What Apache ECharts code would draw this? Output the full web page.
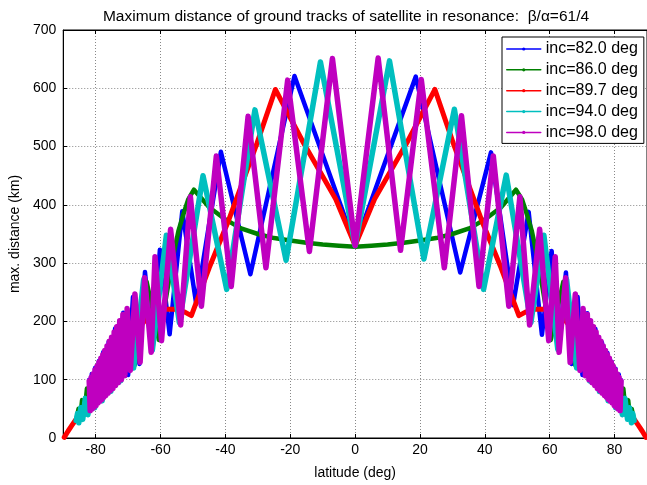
<!DOCTYPE html>
<html>
<head>
<meta charset="utf-8">
<script src="https://cdn.jsdelivr.net/npm/echarts@6/dist/echarts.min.js"></script>
<style>
  html, body { margin: 0; padding: 0; background: #fff; }
  #chart { width: 647px; height: 485px; }
</style>
</head>
<body>
<div id="chart"></div>
<script>
// tick values
var xTicks = [-80, -60, -40, -20, 0, 20, 40, 60, 80];

var names = ['inc=82.0 deg', 'inc=86.0 deg', 'inc=89.7 deg', 'inc=94.0 deg', 'inc=98.0 deg'];
var colors = ['#0000ff', '#008000', '#ff0000', '#00bfbf', '#bf00bf'];

// [latitude, max distance]
var inc82 = [
    [-82, 100], [-81.6, 50], [-81.2, 110], [-80.6, 54], [-80.2, 120], [-79.5, 60], [-79, 132],
    [-78.3, 67], [-77.7, 147], [-76.8, 75], [-76, 165], [-75, 84], [-74, 188], [-72.8, 95],
    [-71.5, 215], [-70, 108], [-68.5, 242], [-66.5, 127], [-64.8, 285], [-62.5, 150],
    [-60.2, 323], [-57.2, 178], [-53.3, 389], [-49, 230], [-41.4, 491], [-32.3, 281],
    [-18.7, 621], [0, 330],
    [18.7, 620], [32.4, 284], [41.9, 490], [48.7, 228], [53.5, 388], [57.6, 177], [60.6, 321],
    [62.7, 150], [65, 284], [66.7, 127], [68.6, 242], [70.1, 108], [71.6, 214], [72.9, 95],
    [74.1, 187], [75.1, 84], [76.1, 164], [76.9, 75], [77.8, 146], [78.4, 67], [79.1, 131],
    [79.6, 60], [80.3, 119], [80.7, 54], [81.3, 109], [81.7, 50], [82, 99]
];
var inc86 = [
    [-86, 30], [-85.3, 50], [-84.8, 32], [-84.2, 65], [-83.5, 40], [-82.7, 85], [-81.8, 52],
    [-80.8, 105], [-79.7, 65], [-78.5, 128], [-77, 80], [-75.5, 160], [-73.5, 98], [-71.3, 205],
    [-68, 125], [-64.3, 268], [-60.5, 168], [-58.8, 224], [-57.6, 264], [-56, 315], [-54.5, 355],
    [-53, 383], [-51.5, 409], [-49.7, 426], [-45, 396], [-40, 375], [-35.4, 360], [-30, 350],
    [-25, 343], [-20, 339], [-15, 335], [-10, 332], [-5, 330], [0, 328],
    [5, 330], [10, 332], [15, 335], [20, 339], [25, 343], [30, 350], [35.4, 360], [40, 375],
    [45, 396], [49.6, 426], [51.5, 409], [53, 383], [54.5, 355], [56, 315], [57.6, 264],
    [58.8, 224], [60.3, 168], [64.2, 268], [67.9, 125], [71.2, 205], [73.4, 98], [75.4, 160],
    [77, 80], [78.5, 128], [79.7, 65], [80.8, 105], [81.8, 52], [82.7, 85], [83.5, 40],
    [84.2, 65], [84.8, 32], [85.3, 50], [86, 30]
];
var inc897 = [
    [-89.7, 1], [-88.5, 12], [-87.3, 22], [-86.3, 30], [-84, 48], [-80, 80], [-76, 115],
    [-72, 150], [-68, 180], [-64.7, 202], [-61, 218], [-58.6, 221], [-55.3, 221], [-52.5, 216],
    [-50.5, 210], [-45, 292], [-39.4, 368], [-30.3, 505], [-24.6, 598], [-16, 507], [-6, 410],
    [0, 330],
    [6, 410], [16, 507], [24.6, 598], [30.3, 505], [39.4, 368], [45, 292], [50.5, 210],
    [52.5, 216], [55.3, 221], [58.6, 221], [61, 218], [64.7, 202], [68, 180], [72, 150],
    [76, 115], [80, 80], [84, 48], [86.3, 30], [87.3, 22], [88.5, 12], [89.7, 1]
];
var inc94 = [
    [-86, 30], [-85.6, 42], [-85.2, 26], [-84.6, 52], [-84, 32], [-83.2, 68], [-82.4, 40],
    [-81.4, 88], [-80.3, 52], [-79.3, 108], [-78, 64], [-76.8, 132], [-75.3, 80], [-74, 165],
    [-72.3, 98], [-70.5, 213], [-68.3, 120], [-65.2, 272], [-62.5, 152], [-58.2, 348],
    [-54.2, 198], [-46.9, 450], [-39.6, 255], [-30.9, 563], [-21.3, 305], [-10.7, 645], [0, 330],
    [10.6, 647], [21.2, 307], [30.6, 564], [39.6, 255], [46.6, 451], [54.2, 198], [58.2, 348],
    [62.5, 152], [65.2, 272], [68.3, 120], [70.5, 213], [72.3, 98], [74, 165], [75.3, 80],
    [76.8, 132], [78, 64], [79.3, 108], [80.3, 52], [81.4, 88], [82.4, 40], [83.2, 68],
    [84, 32], [84.6, 52], [85.2, 26], [85.6, 42], [86, 30]
];
var inc98 = [
    [-82, 98], [-81.7, 47], [-81.4, 104], [-81.1, 50], [-80.8, 110], [-80.5, 53], [-80.2, 117],
    [-79.9, 56], [-79.6, 123], [-79.3, 60], [-79, 130], [-78.7, 63], [-78.4, 137], [-78.1, 66],
    [-77.8, 143], [-77.5, 70], [-77.2, 150], [-76.9, 73], [-76.5, 158], [-76.2, 77],
    [-75.8, 166], [-75.5, 81], [-75.1, 173], [-74.7, 85], [-74.3, 182], [-73.9, 90],
    [-73.5, 191], [-73.1, 95], [-72.6, 201], [-72.1, 100], [-71.6, 212], [-71, 107],
    [-70.3, 222], [-69.3, 116], [-67.9, 247], [-66.3, 130], [-64.9, 275], [-62.9, 147],
    [-61.7, 311], [-59.7, 167], [-56.9, 358], [-53.8, 194], [-50.8, 414], [-47.4, 226],
    [-42.8, 484], [-38.2, 260], [-33, 552], [-27.5, 292], [-20.8, 614], [-14.1, 320],
    [-7, 651], [0, 330],
    [7.1, 652], [14, 322], [20.4, 615], [27.5, 292], [32.8, 553], [38.2, 260], [42.6, 484],
    [47.4, 226], [50.8, 414], [53.8, 194], [56.9, 358], [59.7, 167], [61.7, 311], [62.9, 147],
    [64.9, 275], [66.3, 130], [67.9, 247], [69.3, 116], [70.3, 222], [71, 107], [71.6, 212],
    [72.1, 100], [72.6, 201], [73.1, 95], [73.5, 191], [73.9, 90], [74.3, 182], [74.7, 85],
    [75.1, 173], [75.5, 81], [75.8, 166], [76.2, 77], [76.5, 158], [76.9, 73], [77.2, 150],
    [77.5, 70], [77.8, 143], [78.1, 66], [78.4, 137], [78.7, 63], [79, 130], [79.3, 60],
    [79.6, 123], [79.9, 56], [80.2, 117], [80.5, 53], [80.8, 110], [81.1, 50], [81.4, 104],
    [81.7, 47], [82, 98]
];

var seriesData = [inc82, inc86, inc897, inc94, inc98];
var widths = [4.5, 4.5, 5, 5.5, 5.5];

var font = 'Liberation Sans, Arial, sans-serif';
var chartDom = document.getElementById('chart');
var myChart = echarts.init(chartDom);

var series = seriesData.map(function (d, i) {
    return {
        name: names[i],
        type: 'line',
        xAxisIndex: 0,
        data: d,
        showSymbol: false,
        symbol: 'circle',
        symbolSize: 3,
        color: colors[i],
        lineStyle: { width: widths[i], color: colors[i], join: 'round', cap: 'round' },
        emphasis: { disabled: true }
    };
});

var option = {
    backgroundColor: '#fff',
    animation: false,
    title: {
        text: 'Maximum distance of ground tracks of satellite in resonance:  \u03b2/\u03b1=61/4',
        left: 341,
        top: 4,
        textAlign: 'center',
        textStyle: { fontSize: 15.5, fontWeight: 'normal', color: '#000', fontFamily: font }
    },
    legend: {
        data: names,
        orient: 'vertical',
        left: 502,
        top: 37,
        padding: [4, 6, 3, 4],
        itemWidth: 34,
        itemHeight: 4,
        itemGap: 4.85,
        backgroundColor: '#fff',
        borderColor: '#000',
        borderWidth: 1,
        lineStyle: { width: 1.5 },
        textStyle: { fontSize: 16, color: '#000', fontFamily: font }
    },
    grid: {
        left: 58,
        top: 30,
        width: 591,
        height: 411,
        show: true,
        borderColor: '#000',
        borderWidth: 1
    },
    xAxis: [{
        type: 'value',
        min: -90,
        max: 90,
        name: 'latitude (deg)',
        nameLocation: 'middle',
        nameGap: 28,
        nameTextStyle: { fontSize: 14, color: '#000', fontFamily: font },
        axisLine: { show: true, onZero: false, lineStyle: { color: '#000' } },
        axisTick: { show: true, inside: true, length: 4, customValues: xTicks, lineStyle: { color: '#000' } },
        axisLabel: { customValues: xTicks, fontSize: 14, color: '#000', margin: 5, fontFamily: font },
        splitLine: { show: true, lineStyle: { color: '#888', type: [1, 2] } }
    }, {
        type: 'value',
        position: 'top',
        min: -90,
        max: 90,
        axisLine: { show: true, onZero: false, lineStyle: { color: '#000' } },
        axisTick: { show: true, inside: true, length: 4, customValues: xTicks, lineStyle: { color: '#000' } },
        axisLabel: { show: false },
        splitLine: { show: false }
    }],
    yAxis: {
        type: 'value',
        min: 0,
        max: 700,
        interval: 100,
        name: 'max. distance (km)',
        nameLocation: 'middle',
        nameGap: 30,
        nameTextStyle: { fontSize: 14, color: '#000', fontFamily: font },
        axisLine: { show: true, onZero: false, lineStyle: { color: '#000' } },
        axisTick: { show: true, inside: true, length: 4, lineStyle: { color: '#000' } },
        axisLabel: { fontSize: 14, color: '#000', margin: 7, fontFamily: font },
        splitLine: { show: true, lineStyle: { color: '#888', type: [1, 2] } }
    },
    series: series
};

option && myChart.setOption(option);
</script>
</body>
</html>
